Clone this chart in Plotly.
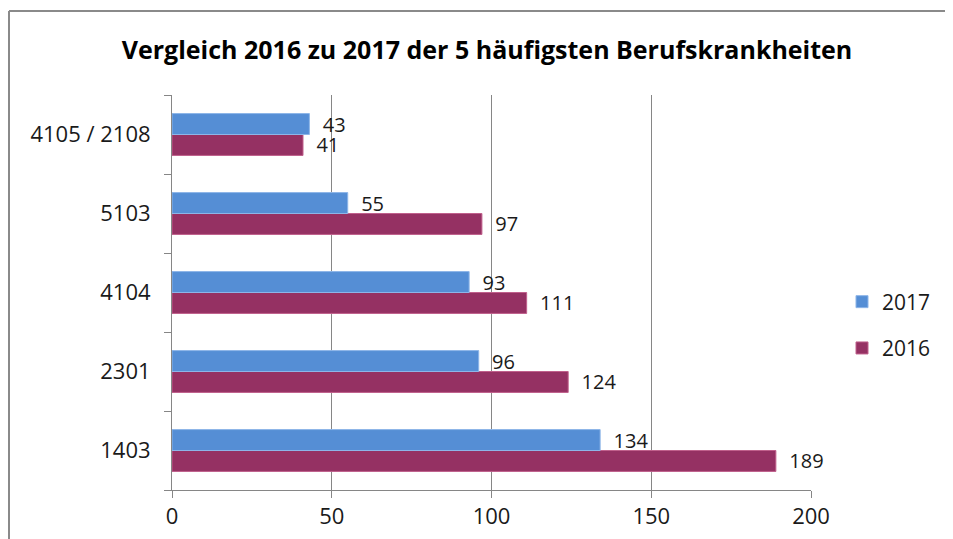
import plotly.graph_objects as go

categories = ["1403", "2301", "4104", "5103", "4105 / 2108"]
values_2016 = [189, 124, 111, 97, 41]
values_2017 = [134, 96, 93, 55, 43]
x_ticks = [0, 50, 100, 150, 200]

FONT = "Open Sans"
OFF = 8  # page body margin
W, H = 953, 539
L, T = 172 - OFF, 95 - OFF
R = W - (811 - OFF)
B = H - (490 - OFF)
pw, ph = W - L - R, H - T - B

def px_x(p):
    return (p - OFF - L) / pw

def px_y(p):
    return (H - B - (p - OFF)) / ph

fig = go.Figure()
fig.add_trace(go.Bar(
    y=categories, x=values_2016, name="2016", orientation="h",
    marker=dict(color="#953163", line=dict(color="#C0608C", width=1)),
    text=values_2016, texttemplate="  %{x}", textposition="outside",
    constraintext="none",
    textfont=dict(family=FONT, size=20, color="#1a1a1a"),
    cliponaxis=False, legendgroup="a", legendrank=2,
))
fig.add_trace(go.Bar(
    y=categories, x=values_2017, name="2017", orientation="h",
    marker=dict(color="#558ED5", line=dict(color="#8DB5E8", width=1)),
    text=values_2017, texttemplate="  %{x}", textposition="outside",
    constraintext="none",
    textfont=dict(family=FONT, size=20, color="#1a1a1a"),
    cliponaxis=False, legendgroup="b", legendrank=1,
))

fig.update_layout(
    width=W, height=H,
    margin=dict(l=L, r=R, t=T, b=B, autoexpand=False),
    paper_bgcolor="white", plot_bgcolor="white",
    barmode="group", bargap=0.47, bargroupgap=0,
    title=dict(text="<b>Vergleich 2016 zu 2017 der 5 häufigsten Berufskrankheiten</b>",
               x=(487 - OFF) / W, xanchor="center", y=1 - (50 - OFF) / H, yanchor="middle",
               font=dict(family=FONT, size=25, color="#000000")),
    legend=dict(x=px_x(842), y=px_y(325), xanchor="left", yanchor="middle",
                traceorder="grouped", tracegroupgap=16,
                font=dict(family=FONT, size=21, color="#1a1a1a"),
                bgcolor="rgba(0,0,0,0)"),
    xaxis=dict(range=[0, 200], tickvals=x_ticks, showgrid=True, gridcolor="#868686",
               gridwidth=1, zeroline=False, showline=True, linecolor="#868686",
               ticks="outside", ticklen=7, tickcolor="#868686",
               tickfont=dict(family=FONT, size=22, color="#1a1a1a")),
    yaxis=dict(type="category", categoryorder="array", categoryarray=categories,
               showgrid=False, showline=True, linecolor="#868686",
               ticks="outside", tickson="boundaries", ticklen=7, tickcolor="#868686",
               ticklabelstandoff=16,
               tickfont=dict(family=FONT, size=22, color="#1a1a1a")),
    shapes=[
        dict(type="line", xref="paper", yref="paper",
             x0=px_x(9), x1=px_x(990), y0=px_y(11), y1=px_y(11),
             line=dict(color="#8a8a8a", width=2), layer="below"),
        dict(type="line", xref="paper", yref="paper",
             x0=px_x(9), x1=px_x(9), y0=px_y(11), y1=px_y(570),
             line=dict(color="#8a8a8a", width=2), layer="below"),
    ],
)

fig.write_html("out.html", config={"displayModeBar": False})
